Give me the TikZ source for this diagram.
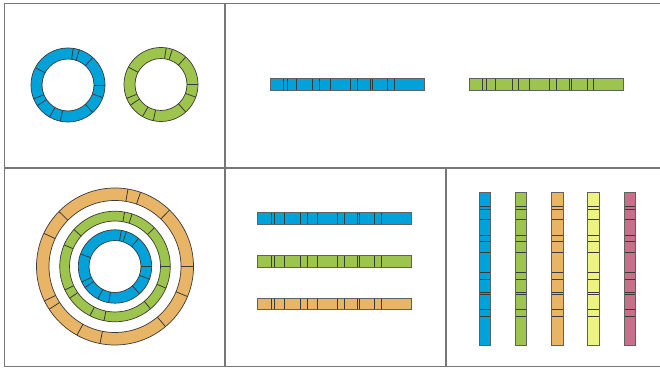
\documentclass[tikz,border=0pt]{standalone}
\usetikzlibrary{calc}
\definecolor{cblue}{HTML}{00A3D9}
\definecolor{cgreen}{HTML}{9DC44C}
\definecolor{corange}{HTML}{E8B466}
\definecolor{cyellow}{HTML}{EEF27E}
\definecolor{cpink}{HTML}{C4728A}
\definecolor{frame}{HTML}{777777}
\definecolor{edge}{HTML}{3A3A3A}
\tikzset{
  framel/.style={draw=frame,line width=1.2pt},
  ringedge/.style={draw=edge,line width=0.7pt},
  stripedge/.style={draw=edge!80,line width=1pt},
  divider/.style={draw=edge,line width=0.8pt},
}
% ring: center, outer R, inner r, color, list of angles
\newcommand{\myring}[5]{%
  \fill[#4,even odd rule] (#1) circle (#2) (#1) circle (#3);
  \draw[ringedge] (#1) circle (#2);
  \draw[ringedge] (#1) circle (#3);
  \foreach \a in {#5} {\draw[divider] ($(#1)+(\a:#3)$) -- ($(#1)+(\a:#2)$);}
}
\newcommand{\fracs}{0.087,0.11,0.172,0.277,0.321,0.391,0.521,0.566,0.65,0.665,0.764,0.806}
% horizontal strip: x0, x1, ylow, yhigh, color
\newcommand{\hstrip}[5]{%
  \fill[#5] (#1,#3) rectangle (#2,#4);
  \foreach \f in \fracs {\draw[divider] ({#1+\f*(#2-#1)},#3) -- ({#1+\f*(#2-#1)},#4);}
  \draw[stripedge] (#1,#3) rectangle (#2,#4);
}
% vertical strip: x0, x1, ylow, yhigh, color (dividers from top)
\newcommand{\vstrip}[5]{%
  \fill[#5] (#1,#3) rectangle (#2,#4);
  \foreach \f in \fracs {\draw[divider] (#1,{#4-\f*(#4-#3)}) -- (#2,{#4-\f*(#4-#3)});}
  \draw[stripedge] (#1,#3) rectangle (#2,#4);
}
\begin{document}
\begin{tikzpicture}[x=1pt,y=1pt]
\useasboundingbox (0,0) rectangle (660,369);
% frame
\draw[framel] (660,365.7) -- (4.3,365.7) -- (4.3,2.5) -- (660,2.5);
\draw[framel] (4.3,201) -- (660,201);
\draw[framel] (225,365.7) -- (225,2.5);
\draw[framel] (446,201) -- (446,2.5);
% centers
\coordinate (rb) at (68,284);
\coordinate (rg) at (161,284.5);
\coordinate (cc) at (115,102.5);
% top rings
\myring{rb}{37}{26}{cblue}{82,72,48,0,-20,-48,-102,-120,-146,-158,152}
\myring{rg}{37}{26}{cgreen}{82,72,48,0,-20,-48,-102,-120,-146,-158,152}
% concentric rings
\myring{cc}{78.5}{66}{corange}{80.5,71,46,0,-22.5,-50,-101,-119,-147,-154,155,135.5}
\myring{cc}{55.3}{45.5}{cgreen}{80,72,44.5,0,-23,-50,-101.5,-117,-145,-155,157,138}
\myring{cc}{36.7}{26}{cblue}{80,72,50,0,-20,-48,-100,-118,-145,-155,160}
% top strips
\hstrip{270}{424}{278}{290}{cblue}
\hstrip{469.3}{623.3}{278}{290}{cgreen}
% middle strips
\hstrip{257.7}{411}{144.7}{156.3}{cblue}
\hstrip{257.7}{411}{101.3}{113}{cgreen}
\hstrip{257.7}{411}{59}{70.3}{corange}
% vertical strips
\vstrip{479.3}{490.7}{23.3}{176.3}{cblue}
\vstrip{515.3}{526.7}{23.3}{176.3}{cgreen}
\vstrip{551.7}{563}{23.3}{176.3}{corange}
\vstrip{587.7}{599}{23.3}{176.3}{cyellow}
\vstrip{624}{635.3}{23.3}{176.3}{cpink}
\end{tikzpicture}
\end{document}
